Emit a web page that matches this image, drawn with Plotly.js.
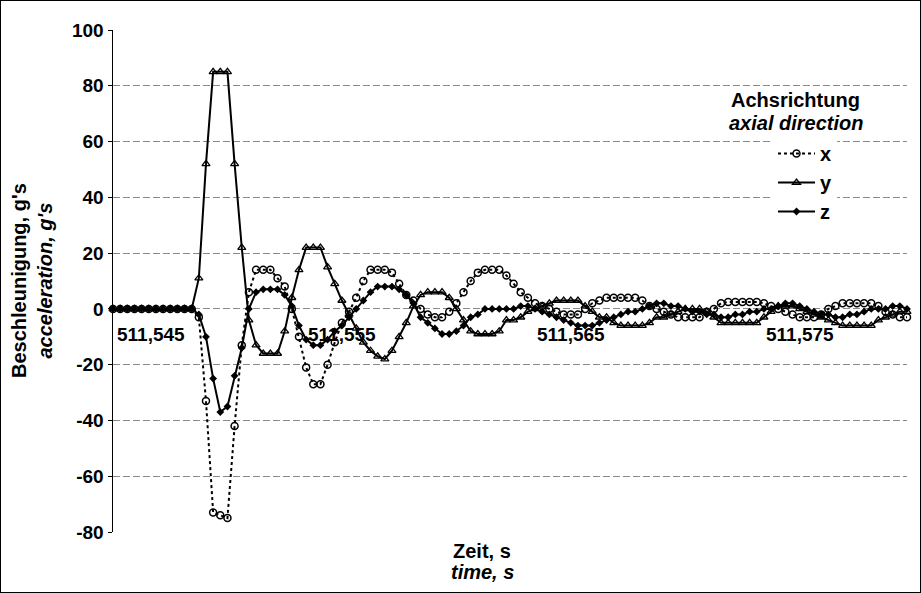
<!DOCTYPE html>
<html>
<head>
<meta charset="utf-8">
<script src="https://cdn.plot.ly/plotly-3.0.1.min.js"></script>
<style>
  html, body { margin: 0; padding: 0; background: #fff; }
  #chart { width: 919px; height: 591px; border: 1px solid #000; }
</style>
</head>
<body>
<div id="chart"></div>
<script>
// ---- data ----
const T0 = 511.545;          // first sample time, s
const DT = 0.0003125;        // sample interval, s

const accX = [0,0,0,0,0,0,0,0,0,0,0,0,
  -3,-33,-73,-74,-75,-42,-13,6,14,14,14,11,8,0,-10,-21,-27,-27,-20,-12,-5,-1,4,10,
  14,14,14,13,9,5,3,0,-2,-3,-3,-1,2,6,10,13,14,14,14,12,9,6,4,2,1,0,-1,-2,-2,-2,
  0,2,3,4,4,4,4,4,3,1,0,-1,-2,-3,-3,-3,-3,-1,0,2,2.5,2.5,2.5,2.5,2.5,2,1,0,-1,-2,
  -3,-3,-3,-2,0,1,2,2,2,2,2,1,-1,-2,-3,-3];

const accY = [0,0,0,0,0,0,0,0,0,0,0,0,
  11,52,85,85,85,52,22,-4,-13,-16,-16,-16,-8,4,14,22,22,22,15,9,3,-2,-7,-12,
  -15,-17,-18,-15,-10,-5,1,5,6,6,6,4,0,-4,-8,-9,-9,-9,-8,-4,-4,-3,-1,0,1,2,3,3,
  3,3,1,-1,-3,-3,-5,-6,-6,-6,-6,-5,-3,-3,-2,-1,0,0,0,-1,-3,-5,-5,-5,-5,-5,-5,-3,
  -1,1,1,1,0,-1,-2,-3,-4,-5,-6,-6,-6,-6,-6,-4,-3,-2,-1,-1];

const accZ = [0,0,0,0,0,0,0,0,0,0,0,0,
  -2,-10,-25,-37,-35,-24,-14,0,6,7,7,7,5,1,-6,-11,-13,-13,-11,-8,-6,-3,0,3,
  6,8,8,8,7,5,2,-3,-5,-7,-9,-9,-8,-6,-3,-2,0,0,0,0,0,1,1,0,-1,-2,-3,-4,-5,-6,
  -6,-6,-5,-4,-3,-2,-1,-1,0,1,2,2,1,1,0,-1,-1,-2,-2,-3,-3,-2,-2,-1,-1,0,0,1,
  2,2,1,0,-1,-2,-2,-3,-3,-2,-2,-1,0,0,0,1,1,0];

const seriesNames = ['x', 'y', 'z'];
const xTickVals = [511.545, 511.555, 511.565, 511.575];
const xTickText = ['511,545', '511,555', '511,565', '511,575'];
const yTickVals = [-80, -60, -40, -20, 0, 20, 40, 60, 80, 100];
const yTickText = ['-80', '-60', '-40', '-20', '0', '20', '40', '60', '80', '100'];

const time = accX.map((_, i) => +(T0 + i * DT).toFixed(7));

// ---- drawing ----
const FONT = 'Liberation Sans, Arial, sans-serif';
const common = { type: 'scatter', mode: 'lines+markers', x: time, cliponaxis: false, hoverinfo: 'skip' };

const traces = [
  Object.assign({}, common, {
    name: seriesNames[0], y: accX,
    line: { color: '#000', width: 2, dash: 'dot' },
    marker: { symbol: 'circle-open', size: 7, color: '#000', line: { width: 1.5, color: '#000' } }
  }),
  Object.assign({}, common, {
    name: seriesNames[1], y: accY,
    line: { color: '#000', width: 2 },
    marker: { symbol: 'triangle-up-open', size: 7, color: '#000', line: { width: 1.3, color: '#000' } }
  }),
  Object.assign({}, common, {
    name: seriesNames[2], y: accZ,
    line: { color: '#000', width: 2 },
    marker: { symbol: 'diamond', size: 6, color: '#000' }
  })
];

const tickAnn = xTickVals.map((v, k) => ({
  x: v, y: 0, xref: 'x', yref: 'y',
  text: '<b>' + xTickText[k] + '</b>',
  showarrow: false,
  xanchor: k === 0 ? 'left' : 'center', xshift: k === 0 ? 2 : 0,
  yanchor: 'middle', yshift: -26,
  font: { family: FONT, size: 19, color: '#000' }
}));

function paperY(px) { return 1 - (px - 29) / 502; }
function paperX(px) { return (px - 112) / 794; }

const layout = {
  width: 919, height: 591,
  margin: { l: 112, r: 13, t: 29, b: 60 },
  paper_bgcolor: '#fff', plot_bgcolor: '#fff',
  font: { family: FONT, color: '#000' },
  showlegend: true,
  legend: {
    x: paperX(772), xanchor: 'left', y: paperY(133), yanchor: 'top',
    bgcolor: '#fff', borderwidth: 0,
    font: { family: FONT, size: 20, color: '#000', weight: 'bold' },
    tracegroupgap: 0, itemwidth: 37
  },
  xaxis: {
    range: [time[0], time[time.length - 1]],
    showgrid: false, zeroline: false, showline: false,
    showticklabels: false, ticks: ''
  },
  yaxis: {
    range: [-80, 100],
    tickvals: yTickVals, ticktext: yTickText,
    tickfont: { family: FONT, size: 19, color: '#000', weight: 'bold' },
    showgrid: true, gridcolor: '#8a8a8a', gridwidth: 1, griddash: '7px,3px',
    zeroline: false,
    showline: true, linecolor: '#000', linewidth: 1.5,
    ticks: 'outside', ticklen: 4, tickcolor: '#000'
  },
  annotations: tickAnn.concat([
    {
      xref: 'paper', yref: 'paper', x: paperX(31), y: 0.5, xanchor: 'center', yanchor: 'middle',
      textangle: -90, showarrow: false,
      text: "<b>Beschleunigung, g's</b><br><b><i>acceleration, g's</i></b>",
      font: { family: FONT, size: 20, color: '#000' }
    },
    {
      xref: 'paper', yref: 'paper', x: paperX(481), y: paperY(550), xanchor: 'center', yanchor: 'middle',
      showarrow: false, text: "<b>Zeit, s</b>",
      font: { family: FONT, size: 20, color: '#000' }
    },
    {
      xref: 'paper', yref: 'paper', x: paperX(481), y: paperY(571), xanchor: 'center', yanchor: 'middle',
      showarrow: false, text: "<b><i>time, s</i></b>",
      font: { family: FONT, size: 20, color: '#000' }
    },
    {
      xref: 'paper', yref: 'paper', x: paperX(794), y: paperY(99), xanchor: 'center', yanchor: 'middle',
      showarrow: false, text: '<b>Achsrichtung</b>',
      font: { family: FONT, size: 20, color: '#000' }
    },
    {
      xref: 'paper', yref: 'paper', x: paperX(795), y: paperY(122), xanchor: 'center', yanchor: 'middle',
      showarrow: false, text: '<b><i>axial direction</i></b>',
      font: { family: FONT, size: 20, color: '#000' }
    }
  ])
};

Plotly.newPlot('chart', traces, layout, { displayModeBar: false, staticPlot: true });
</script>
</body>
</html>
